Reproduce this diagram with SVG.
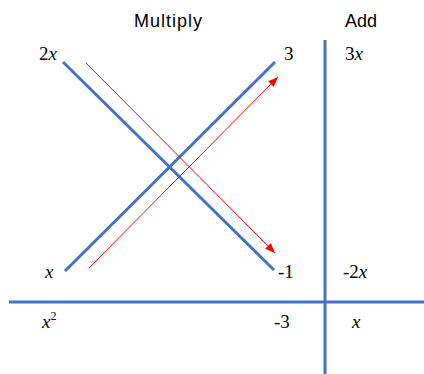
<svg xmlns="http://www.w3.org/2000/svg" width="424" height="374" viewBox="0 0 424 374">
<style>
.b{stroke:#4472C4;stroke-width:3;fill:none}
.r{stroke:#FF0000;stroke-width:1;fill:none;marker-end:url(#ah)}
.h{font-family:"Liberation Sans",Arial,sans-serif;font-size:18px;fill:#000}
.m{font-family:"Liberation Serif","Times New Roman",serif;font-size:19px;fill:#000}
.i{font-style:italic}
</style>
<defs>
<marker id="ah" viewBox="0 0 10 8" refX="10" refY="4" markerWidth="10" markerHeight="8" markerUnits="userSpaceOnUse" orient="auto">
<path d="M0,0 L10,4 L0,8 Z" fill="#FF0000"/>
</marker>
</defs>
<rect width="424" height="374" fill="#fff"/>
<g id="connectors">
<line class="b" x1="63" y1="62" x2="274" y2="270"/>
<line class="b" x1="65" y1="271" x2="275" y2="62"/>
<line class="r" x1="86" y1="63" x2="275" y2="253"/>
<line class="r" x1="89" y1="268" x2="278" y2="77"/>
<line class="b" x1="325" y1="40" x2="325" y2="374"/>
<line class="b" x1="9" y1="302" x2="424" y2="302"/>
</g>
<g id="headers">
<text class="h" x="168" y="27" text-anchor="middle" textLength="68">Multiply</text>
<text class="h" x="345" y="27">Add</text>
</g>
<g id="n-2x"><text class="m" x="39" y="60">2<tspan class="i">x</tspan></text></g>
<g id="n-3"><text class="m" x="284" y="60">3</text></g>
<g id="n-3x"><text class="m" x="345" y="60">3<tspan class="i">x</tspan></text></g>
<g id="n-x"><text class="m i" x="45" y="278">x</text></g>
<g id="n-m1"><text class="m" x="278" y="278">-1</text></g>
<g id="n-m2x"><text class="m" x="343" y="278">-2<tspan class="i">x</tspan></text></g>
<g id="n-x2"><text class="m" x="42" y="328"><tspan class="i">x</tspan><tspan font-size="12" dy="-8">2</tspan></text></g>
<g id="n-m3"><text class="m" x="274" y="328">-3</text></g>
<g id="n-x-sum"><text class="m i" x="352" y="328">x</text></g>
</svg>
